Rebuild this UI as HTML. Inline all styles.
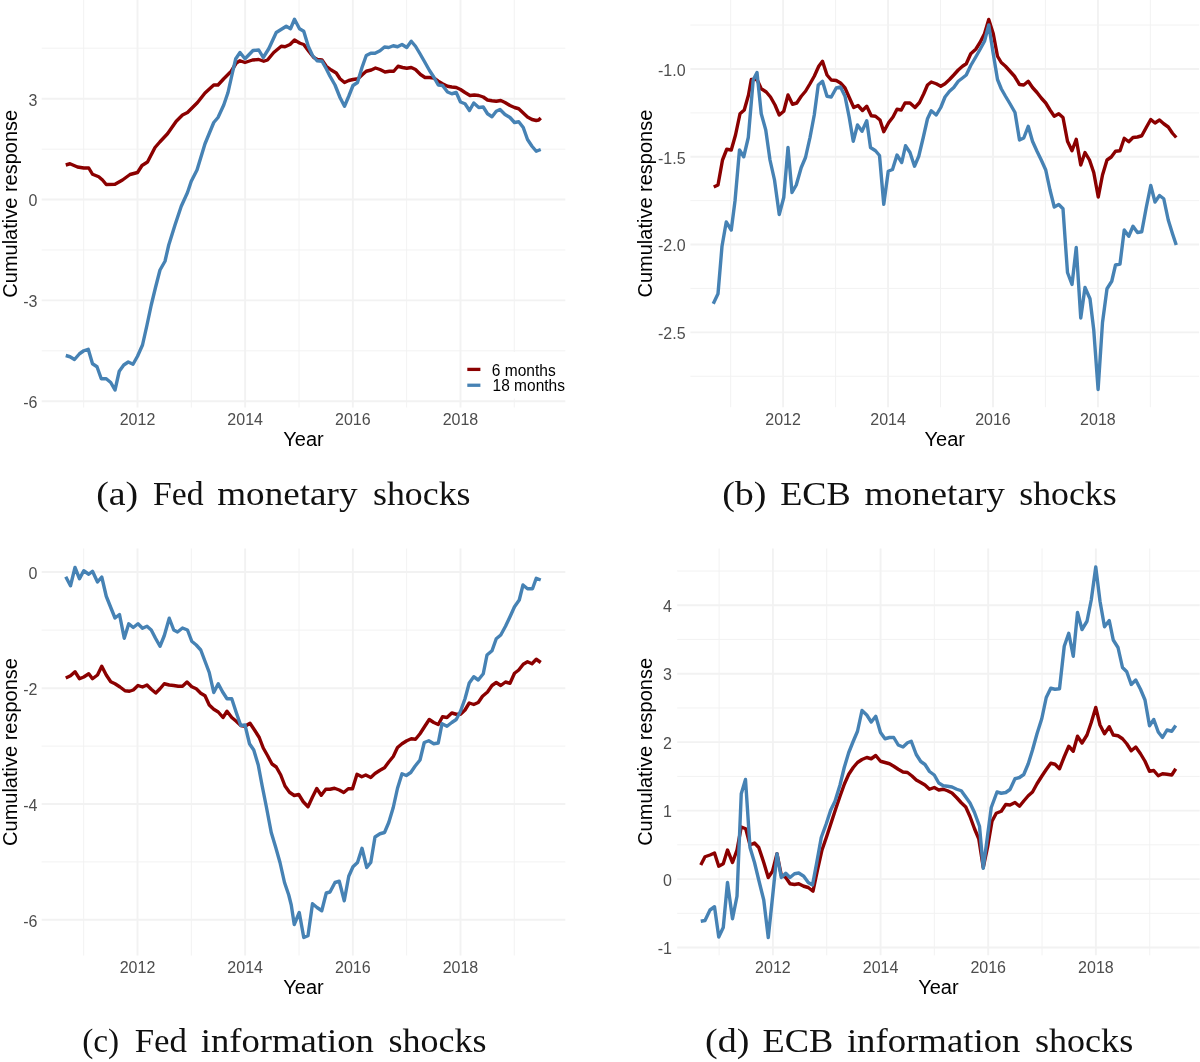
<!DOCTYPE html>
<html><head><meta charset="utf-8"><title>Cumulative responses</title>
<style>html,body{margin:0;padding:0;background:#fff}svg{display:block}text{font-family:"Liberation Sans",sans-serif}text.cap{font-family:"Liberation Serif",serif}</style>
</head><body>
<svg width="1200" height="1062" viewBox="0 0 1200 1062">
<rect width="1200" height="1062" fill="#fff"/>
<line x1="83.67" y1="0" x2="83.67" y2="407.5" stroke="#F1F1F1" stroke-width="0.95"/>
<line x1="191.32999999999998" y1="0" x2="191.32999999999998" y2="407.5" stroke="#F1F1F1" stroke-width="0.95"/>
<line x1="298.99" y1="0" x2="298.99" y2="407.5" stroke="#F1F1F1" stroke-width="0.95"/>
<line x1="406.65" y1="0" x2="406.65" y2="407.5" stroke="#F1F1F1" stroke-width="0.95"/>
<line x1="514.31" y1="0" x2="514.31" y2="407.5" stroke="#F1F1F1" stroke-width="0.95"/>
<line x1="41.7" y1="48.2" x2="565.3" y2="48.2" stroke="#F1F1F1" stroke-width="0.95"/>
<line x1="41.7" y1="149.2" x2="565.3" y2="149.2" stroke="#F1F1F1" stroke-width="0.95"/>
<line x1="41.7" y1="250.0" x2="565.3" y2="250.0" stroke="#F1F1F1" stroke-width="0.95"/>
<line x1="41.7" y1="350.8" x2="565.3" y2="350.8" stroke="#F1F1F1" stroke-width="0.95"/>
<line x1="137.5" y1="0" x2="137.5" y2="407.5" stroke="#F2F2F2" stroke-width="1.9"/>
<line x1="245.16" y1="0" x2="245.16" y2="407.5" stroke="#F2F2F2" stroke-width="1.9"/>
<line x1="352.82" y1="0" x2="352.82" y2="407.5" stroke="#F2F2F2" stroke-width="1.9"/>
<line x1="460.48" y1="0" x2="460.48" y2="407.5" stroke="#F2F2F2" stroke-width="1.9"/>
<line x1="41.7" y1="98.75" x2="565.3" y2="98.75" stroke="#F2F2F2" stroke-width="1.9"/>
<line x1="41.7" y1="199.5" x2="565.3" y2="199.5" stroke="#F2F2F2" stroke-width="1.9"/>
<line x1="41.7" y1="300.4" x2="565.3" y2="300.4" stroke="#F2F2F2" stroke-width="1.9"/>
<line x1="41.7" y1="401.2" x2="565.3" y2="401.2" stroke="#F2F2F2" stroke-width="1.9"/>
<path d="M65.75 165.00 L70.00 163.75 L77.50 167.00 L83.75 168.00 L88.75 168.00 L92.50 174.25 L98.75 176.75 L102.50 180.00 L106.25 184.50 L115.00 184.25 L122.50 180.00 L130.00 174.50 L137.50 172.50 L142.00 165.50 L147.50 162.00 L155.00 147.50 L160.00 141.75 L167.50 133.75 L176.25 121.25 L182.50 115.00 L187.50 112.50 L197.50 102.50 L205.00 93.00 L213.75 85.00 L218.00 85.00 L223.75 78.75 L231.25 71.25 L236.25 63.00 L240.00 60.75 L245.00 62.50 L252.50 60.00 L258.75 59.50 L263.75 61.25 L267.50 60.00 L273.75 52.50 L281.25 46.25 L285.00 46.75 L290.00 44.50 L294.50 40.00 L300.00 43.25 L303.75 44.50 L308.75 51.25 L313.75 57.50 L317.50 59.50 L322.00 60.00 L326.25 66.25 L331.25 70.00 L336.25 73.00 L340.00 78.75 L344.50 82.50 L348.75 80.50 L353.00 79.50 L358.00 78.75 L362.50 74.50 L366.25 71.25 L371.25 70.00 L375.50 68.00 L380.00 69.50 L385.00 72.00 L389.50 71.25 L393.75 71.25 L398.00 66.25 L402.50 67.50 L406.75 68.25 L411.25 67.50 L415.50 69.50 L420.50 74.50 L425.00 77.50 L429.50 77.50 L433.75 78.00 L438.25 81.25 L442.50 83.75 L447.50 86.25 L451.75 87.00 L456.25 87.50 L460.50 89.50 L465.00 92.50 L470.00 95.50 L474.25 95.00 L478.75 95.50 L483.25 97.00 L487.50 100.00 L492.00 100.75 L496.25 101.25 L500.75 100.50 L505.00 102.50 L510.00 105.50 L514.50 107.50 L518.75 108.75 L523.25 113.00 L527.50 117.00 L532.00 119.50 L536.25 120.50 L538.75 120.00 L540.75 118.00" fill="none" stroke="#8B0000" stroke-width="3.4" stroke-linejoin="round" stroke-linecap="butt"/>
<path d="M65.75 355.50 L70.00 356.75 L74.50 359.50 L79.50 353.75 L83.75 350.75 L88.25 349.25 L92.50 363.75 L97.00 366.75 L101.25 378.75 L106.25 378.75 L110.75 382.50 L115.00 390.00 L119.25 371.25 L123.75 365.00 L128.25 362.00 L133.00 364.25 L137.50 356.25 L142.50 345.00 L147.00 325.00 L151.25 305.00 L155.50 287.50 L160.00 270.00 L165.00 261.25 L168.75 245.00 L175.00 225.00 L181.25 206.25 L187.50 192.50 L191.25 181.25 L197.00 170.00 L205.00 143.75 L213.75 122.50 L218.00 117.50 L223.75 105.00 L228.00 92.50 L232.50 72.50 L235.75 58.75 L240.00 52.50 L245.00 58.75 L253.00 50.50 L258.75 50.00 L263.25 57.50 L268.75 48.75 L276.25 32.50 L286.25 26.25 L290.50 28.75 L294.50 19.25 L299.50 28.75 L303.75 31.25 L308.25 46.25 L312.50 55.50 L317.00 60.75 L322.00 61.25 L326.25 68.75 L330.00 76.25 L335.00 85.00 L340.00 97.50 L344.50 106.25 L348.75 96.25 L353.00 85.50 L357.50 82.50 L362.00 67.50 L366.25 55.50 L370.75 53.25 L375.00 53.25 L380.00 50.75 L384.50 47.00 L388.75 47.50 L393.25 45.75 L397.50 46.75 L402.00 44.50 L406.75 47.50 L411.25 41.25 L415.50 46.25 L420.00 53.75 L425.00 62.50 L429.50 70.50 L433.75 77.00 L438.25 85.00 L442.50 85.50 L447.50 92.00 L451.75 93.75 L456.25 92.50 L460.50 102.00 L465.00 103.75 L469.50 110.50 L473.75 103.00 L478.75 107.50 L483.25 107.00 L487.50 113.75 L492.00 116.75 L496.25 111.25 L500.00 109.50 L505.00 114.50 L510.00 117.50 L514.50 122.50 L518.75 121.75 L523.25 127.50 L527.50 139.50 L532.00 146.25 L536.25 151.25 L540.75 149.50" fill="none" stroke="#4682B4" stroke-width="3.4" stroke-linejoin="round" stroke-linecap="butt"/>
<text x="37.5" y="105.55" text-anchor="end" font-size="16" fill="#4D4D4D">3</text>
<text x="37.5" y="206.3" text-anchor="end" font-size="16" fill="#4D4D4D">0</text>
<text x="37.5" y="307.2" text-anchor="end" font-size="16" fill="#4D4D4D">-3</text>
<text x="37.5" y="408.0" text-anchor="end" font-size="16" fill="#4D4D4D">-6</text>
<text x="137.5" y="425.0" text-anchor="middle" font-size="16" fill="#4D4D4D">2012</text>
<text x="245.16" y="425.0" text-anchor="middle" font-size="16" fill="#4D4D4D">2014</text>
<text x="352.82" y="425.0" text-anchor="middle" font-size="16" fill="#4D4D4D">2016</text>
<text x="460.48" y="425.0" text-anchor="middle" font-size="16" fill="#4D4D4D">2018</text>
<text x="303.5" y="446.1" text-anchor="middle" font-size="20" fill="#000">Year</text>
<text transform="translate(17.1 203.75) rotate(-90)" text-anchor="middle" font-size="20" fill="#000">Cumulative response</text>
<rect x="462.5" y="352" width="104" height="46.5" fill="#fff"/>
<line x1="467.3" y1="369.4" x2="480.4" y2="369.4" stroke="#8B0000" stroke-width="3.3"/>
<line x1="467.3" y1="385.25" x2="480.4" y2="385.25" stroke="#4682B4" stroke-width="3.3"/>
<text x="491.8" y="375.7" font-size="16.5" fill="#000" textLength="63.9" lengthAdjust="spacingAndGlyphs">6 months</text>
<text x="492.6" y="391.3" font-size="16.5" fill="#000" textLength="72.3" lengthAdjust="spacingAndGlyphs">18 months</text>
<line x1="730.63" y1="0" x2="730.63" y2="407.2" stroke="#F1F1F1" stroke-width="0.95"/>
<line x1="835.57" y1="0" x2="835.57" y2="407.2" stroke="#F1F1F1" stroke-width="0.95"/>
<line x1="940.51" y1="0" x2="940.51" y2="407.2" stroke="#F1F1F1" stroke-width="0.95"/>
<line x1="1045.45" y1="0" x2="1045.45" y2="407.2" stroke="#F1F1F1" stroke-width="0.95"/>
<line x1="1150.3899999999999" y1="0" x2="1150.3899999999999" y2="407.2" stroke="#F1F1F1" stroke-width="0.95"/>
<line x1="690.4" y1="25.050000000000004" x2="1199.1" y2="25.050000000000004" stroke="#F1F1F1" stroke-width="0.95"/>
<line x1="690.4" y1="112.85" x2="1199.1" y2="112.85" stroke="#F1F1F1" stroke-width="0.95"/>
<line x1="690.4" y1="200.64999999999998" x2="1199.1" y2="200.64999999999998" stroke="#F1F1F1" stroke-width="0.95"/>
<line x1="690.4" y1="288.45" x2="1199.1" y2="288.45" stroke="#F1F1F1" stroke-width="0.95"/>
<line x1="690.4" y1="376.25" x2="1199.1" y2="376.25" stroke="#F1F1F1" stroke-width="0.95"/>
<line x1="783.1" y1="0" x2="783.1" y2="407.2" stroke="#F2F2F2" stroke-width="1.9"/>
<line x1="888.04" y1="0" x2="888.04" y2="407.2" stroke="#F2F2F2" stroke-width="1.9"/>
<line x1="992.98" y1="0" x2="992.98" y2="407.2" stroke="#F2F2F2" stroke-width="1.9"/>
<line x1="1097.92" y1="0" x2="1097.92" y2="407.2" stroke="#F2F2F2" stroke-width="1.9"/>
<line x1="690.4" y1="68.95" x2="1199.1" y2="68.95" stroke="#F2F2F2" stroke-width="1.9"/>
<line x1="690.4" y1="156.75" x2="1199.1" y2="156.75" stroke="#F2F2F2" stroke-width="1.9"/>
<line x1="690.4" y1="244.55" x2="1199.1" y2="244.55" stroke="#F2F2F2" stroke-width="1.9"/>
<line x1="690.4" y1="332.34999999999997" x2="1199.1" y2="332.34999999999997" stroke="#F2F2F2" stroke-width="1.9"/>
<path d="M713.75 187.00 L718.00 185.00 L722.50 160.00 L726.75 149.25 L731.25 150.00 L735.50 135.00 L740.00 113.75 L744.25 110.00 L748.50 95.00 L751.30 79.50 L757.00 79.50 L761.25 88.75 L766.25 92.00 L770.50 97.00 L775.00 105.00 L779.25 115.00 L783.75 111.25 L788.00 95.00 L792.50 104.25 L796.75 103.00 L801.25 96.25 L805.50 91.25 L810.00 83.75 L814.25 76.25 L818.75 66.25 L822.50 61.25 L827.00 75.00 L831.25 80.00 L836.25 80.50 L840.50 83.00 L845.00 88.00 L849.25 97.50 L853.75 107.50 L858.00 105.50 L862.50 110.50 L866.75 106.25 L871.25 115.75 L875.50 116.25 L880.00 120.00 L883.75 131.75 L888.75 122.50 L893.00 117.00 L897.00 109.25 L901.25 110.00 L905.00 103.00 L910.00 103.00 L915.00 107.50 L919.50 102.50 L923.75 93.75 L927.50 85.00 L931.25 82.00 L936.25 83.75 L940.75 86.25 L945.00 83.75 L949.50 79.50 L953.75 75.00 L958.25 70.00 L962.50 66.25 L966.25 63.75 L970.75 53.75 L975.75 49.25 L980.00 42.50 L984.50 33.75 L988.75 19.50 L993.25 33.75 L997.50 56.25 L1001.25 62.50 L1005.50 66.25 L1010.00 71.25 L1014.50 76.25 L1019.50 84.50 L1023.75 85.00 L1028.25 81.25 L1032.50 87.50 L1037.00 92.50 L1041.25 98.00 L1045.75 103.00 L1050.00 110.00 L1054.25 116.25 L1058.75 113.75 L1063.00 117.50 L1067.50 141.25 L1072.00 150.75 L1076.25 139.25 L1080.75 165.00 L1085.00 152.50 L1089.50 160.00 L1093.75 172.50 L1098.25 197.00 L1102.50 175.00 L1107.00 160.00 L1111.25 157.00 L1115.50 151.25 L1120.00 150.75 L1124.25 138.25 L1128.75 141.75 L1133.00 137.50 L1137.50 137.00 L1141.75 135.75 L1146.25 127.50 L1150.75 119.50 L1155.00 123.00 L1159.50 120.00 L1163.75 123.75 L1168.25 127.00 L1172.50 133.25 L1176.25 137.50" fill="none" stroke="#8B0000" stroke-width="3.4" stroke-linejoin="round" stroke-linecap="butt"/>
<path d="M713.25 303.75 L718.00 293.75 L722.00 246.25 L726.25 222.00 L731.25 230.00 L735.00 201.00 L739.50 150.00 L743.75 156.75 L748.30 137.50 L753.20 80.00 L757.00 72.50 L761.25 113.75 L765.75 130.00 L770.00 160.00 L774.50 180.00 L779.25 214.50 L783.75 197.50 L788.00 147.50 L792.00 192.50 L796.25 185.00 L801.25 167.50 L805.50 157.50 L810.00 137.50 L814.25 115.00 L818.25 85.00 L822.50 81.25 L827.00 96.25 L831.25 97.00 L836.25 88.00 L840.50 87.00 L845.00 96.25 L849.25 117.50 L853.25 141.25 L857.50 125.00 L862.00 131.25 L866.75 120.75 L870.50 147.50 L875.50 150.75 L879.50 155.50 L883.75 204.25 L888.25 171.25 L892.50 169.50 L897.00 155.00 L901.75 162.50 L905.50 145.75 L910.00 152.50 L914.50 166.25 L918.75 156.25 L923.25 137.50 L927.50 118.75 L931.25 110.75 L936.25 115.00 L940.75 107.50 L945.00 97.00 L949.50 91.25 L953.75 87.50 L958.25 81.25 L962.50 78.00 L966.25 75.00 L970.75 65.50 L975.75 57.00 L980.00 49.50 L984.50 41.25 L988.75 25.00 L993.25 53.75 L997.50 79.50 L1001.25 88.75 L1005.50 96.25 L1010.00 103.75 L1015.00 112.50 L1019.50 140.00 L1023.75 138.00 L1028.25 126.25 L1032.50 141.25 L1037.00 151.25 L1041.25 160.00 L1045.75 170.00 L1050.00 190.00 L1054.25 207.00 L1058.75 204.50 L1063.00 208.75 L1065.00 237.50 L1067.50 272.50 L1072.00 284.50 L1076.25 247.50 L1080.75 318.00 L1085.00 287.50 L1090.00 298.75 L1093.75 330.00 L1098.10 389.50 L1102.50 322.50 L1107.00 288.75 L1111.75 281.25 L1115.50 265.00 L1120.00 264.00 L1124.25 230.00 L1128.75 236.25 L1133.00 226.25 L1137.50 232.50 L1141.75 231.75 L1146.25 207.50 L1150.75 185.50 L1155.00 202.00 L1159.50 195.50 L1163.75 198.75 L1168.25 220.00 L1172.50 233.75 L1176.25 245.00" fill="none" stroke="#4682B4" stroke-width="3.4" stroke-linejoin="round" stroke-linecap="butt"/>
<text x="685.5999999999999" y="75.75" text-anchor="end" font-size="16" fill="#4D4D4D">-1.0</text>
<text x="685.5999999999999" y="163.55" text-anchor="end" font-size="16" fill="#4D4D4D">-1.5</text>
<text x="685.5999999999999" y="251.35000000000002" text-anchor="end" font-size="16" fill="#4D4D4D">-2.0</text>
<text x="685.5999999999999" y="339.15" text-anchor="end" font-size="16" fill="#4D4D4D">-2.5</text>
<text x="783.1" y="424.7" text-anchor="middle" font-size="16" fill="#4D4D4D">2012</text>
<text x="888.04" y="424.7" text-anchor="middle" font-size="16" fill="#4D4D4D">2014</text>
<text x="992.98" y="424.7" text-anchor="middle" font-size="16" fill="#4D4D4D">2016</text>
<text x="1097.92" y="424.7" text-anchor="middle" font-size="16" fill="#4D4D4D">2018</text>
<text x="944.75" y="445.8" text-anchor="middle" font-size="20" fill="#000">Year</text>
<text transform="translate(652 203.6) rotate(-90)" text-anchor="middle" font-size="20" fill="#000">Cumulative response</text>
<line x1="83.67" y1="548.5" x2="83.67" y2="955.5" stroke="#F1F1F1" stroke-width="0.95"/>
<line x1="191.32999999999998" y1="548.5" x2="191.32999999999998" y2="955.5" stroke="#F1F1F1" stroke-width="0.95"/>
<line x1="298.99" y1="548.5" x2="298.99" y2="955.5" stroke="#F1F1F1" stroke-width="0.95"/>
<line x1="406.65" y1="548.5" x2="406.65" y2="955.5" stroke="#F1F1F1" stroke-width="0.95"/>
<line x1="514.31" y1="548.5" x2="514.31" y2="955.5" stroke="#F1F1F1" stroke-width="0.95"/>
<line x1="41.7" y1="630.1" x2="565.3" y2="630.1" stroke="#F1F1F1" stroke-width="0.95"/>
<line x1="41.7" y1="746.1" x2="565.3" y2="746.1" stroke="#F1F1F1" stroke-width="0.95"/>
<line x1="41.7" y1="861.9" x2="565.3" y2="861.9" stroke="#F1F1F1" stroke-width="0.95"/>
<line x1="137.5" y1="548.5" x2="137.5" y2="955.5" stroke="#F2F2F2" stroke-width="1.9"/>
<line x1="245.16" y1="548.5" x2="245.16" y2="955.5" stroke="#F2F2F2" stroke-width="1.9"/>
<line x1="352.82" y1="548.5" x2="352.82" y2="955.5" stroke="#F2F2F2" stroke-width="1.9"/>
<line x1="460.48" y1="548.5" x2="460.48" y2="955.5" stroke="#F2F2F2" stroke-width="1.9"/>
<line x1="41.7" y1="572.05" x2="565.3" y2="572.05" stroke="#F2F2F2" stroke-width="1.9"/>
<line x1="41.7" y1="688.3" x2="565.3" y2="688.3" stroke="#F2F2F2" stroke-width="1.9"/>
<line x1="41.7" y1="804.0" x2="565.3" y2="804.0" stroke="#F2F2F2" stroke-width="1.9"/>
<line x1="41.7" y1="919.8" x2="565.3" y2="919.8" stroke="#F2F2F2" stroke-width="1.9"/>
<path d="M65.75 678.00 L70.50 675.75 L75.00 671.75 L79.50 678.75 L83.75 677.00 L88.75 673.75 L92.50 678.75 L97.50 675.00 L101.75 666.25 L106.25 675.00 L110.75 681.75 L115.00 683.75 L120.00 687.00 L125.00 690.75 L129.50 691.25 L133.25 690.00 L138.00 685.50 L142.50 687.00 L147.00 685.00 L151.25 689.25 L155.75 693.00 L160.00 688.75 L164.25 683.75 L169.25 685.00 L173.75 685.50 L178.25 686.25 L182.50 686.25 L187.00 682.00 L191.75 686.75 L196.25 688.75 L200.75 693.25 L205.00 695.75 L209.25 705.00 L213.75 709.25 L218.25 712.00 L223.00 717.50 L227.00 711.25 L231.75 717.50 L236.25 721.25 L240.75 725.50 L245.00 726.25 L250.00 723.25 L254.50 730.00 L259.25 737.50 L263.25 748.00 L267.50 755.50 L272.00 764.00 L276.25 767.00 L280.75 775.00 L285.00 786.00 L289.50 792.25 L294.25 795.50 L298.75 794.50 L303.25 801.75 L308.00 806.75 L312.50 797.00 L316.75 788.50 L321.25 795.25 L325.75 789.25 L330.00 789.25 L334.50 788.25 L339.25 790.00 L343.75 792.50 L348.25 788.75 L352.50 788.75 L357.00 774.25 L361.75 776.75 L365.75 775.00 L370.75 777.50 L375.00 773.50 L380.00 770.25 L384.50 767.75 L388.75 762.00 L393.25 756.50 L397.50 747.50 L402.00 743.75 L406.75 740.75 L411.25 738.75 L415.50 739.25 L420.00 733.75 L424.50 726.75 L429.25 719.50 L433.75 722.50 L438.25 724.50 L442.50 716.75 L447.00 717.50 L451.75 713.00 L456.25 714.25 L460.50 714.25 L465.00 710.00 L469.25 703.00 L473.75 704.50 L478.25 702.50 L482.50 696.25 L487.50 692.00 L492.00 685.50 L496.25 682.50 L500.75 685.50 L505.50 682.00 L510.00 683.25 L514.50 673.25 L518.75 670.00 L523.25 664.25 L527.50 661.75 L532.00 663.75 L536.25 659.25 L540.75 662.50" fill="none" stroke="#8B0000" stroke-width="3.4" stroke-linejoin="round" stroke-linecap="butt"/>
<path d="M65.75 576.75 L70.50 585.75 L75.00 567.50 L79.50 578.75 L83.75 570.75 L88.75 574.25 L92.50 571.25 L97.50 582.00 L101.75 577.00 L106.25 596.25 L110.75 607.50 L115.00 618.00 L119.50 614.50 L124.25 638.25 L128.75 623.75 L133.25 627.50 L138.00 623.75 L142.50 628.25 L147.00 626.25 L151.25 630.00 L155.50 638.25 L160.00 646.25 L164.25 635.75 L169.25 618.25 L173.75 630.00 L177.50 632.00 L182.50 628.00 L187.50 630.00 L191.75 641.25 L196.25 645.00 L200.75 650.00 L205.00 661.25 L209.25 672.50 L213.75 692.50 L218.25 683.75 L222.50 691.75 L227.00 698.75 L231.75 698.75 L236.25 712.50 L240.75 725.50 L245.00 725.00 L249.50 743.75 L253.75 750.00 L258.25 765.00 L262.00 785.00 L266.25 806.25 L271.25 832.50 L275.75 847.50 L280.00 862.50 L284.50 882.50 L288.75 895.00 L291.25 905.00 L294.25 924.50 L299.25 912.50 L303.75 937.50 L308.00 935.75 L312.50 903.75 L317.00 907.50 L321.75 910.75 L326.25 893.00 L330.00 892.00 L335.00 882.50 L339.25 881.25 L344.25 900.75 L348.75 876.25 L353.00 866.75 L357.50 862.50 L362.00 848.25 L366.75 867.50 L370.75 862.50 L375.00 837.00 L380.00 833.75 L384.50 832.50 L388.75 822.50 L393.25 807.50 L397.50 788.25 L402.00 773.75 L406.25 775.50 L410.75 772.50 L415.00 766.25 L420.00 760.00 L424.25 742.50 L428.75 740.75 L433.75 743.75 L438.25 743.00 L442.00 723.75 L447.00 726.25 L451.75 722.50 L456.25 719.50 L460.50 711.25 L465.00 698.75 L469.25 683.00 L473.75 676.75 L478.25 680.00 L483.25 673.75 L487.00 655.00 L492.00 650.75 L496.25 638.75 L500.75 635.00 L505.50 626.25 L510.00 616.75 L514.50 606.75 L519.25 600.00 L523.00 585.00 L527.50 588.75 L532.50 588.75 L536.25 578.25 L540.75 580.00" fill="none" stroke="#4682B4" stroke-width="3.4" stroke-linejoin="round" stroke-linecap="butt"/>
<text x="37.5" y="578.8499999999999" text-anchor="end" font-size="16" fill="#4D4D4D">0</text>
<text x="37.5" y="695.0999999999999" text-anchor="end" font-size="16" fill="#4D4D4D">-2</text>
<text x="37.5" y="810.8" text-anchor="end" font-size="16" fill="#4D4D4D">-4</text>
<text x="37.5" y="926.5999999999999" text-anchor="end" font-size="16" fill="#4D4D4D">-6</text>
<text x="137.5" y="973.0" text-anchor="middle" font-size="16" fill="#4D4D4D">2012</text>
<text x="245.16" y="973.0" text-anchor="middle" font-size="16" fill="#4D4D4D">2014</text>
<text x="352.82" y="973.0" text-anchor="middle" font-size="16" fill="#4D4D4D">2016</text>
<text x="460.48" y="973.0" text-anchor="middle" font-size="16" fill="#4D4D4D">2018</text>
<text x="303.5" y="994.1" text-anchor="middle" font-size="20" fill="#000">Year</text>
<text transform="translate(17.1 752.0) rotate(-90)" text-anchor="middle" font-size="20" fill="#000">Cumulative response</text>
<line x1="719.0699999999999" y1="548.5" x2="719.0699999999999" y2="955.3" stroke="#F1F1F1" stroke-width="0.95"/>
<line x1="826.73" y1="548.5" x2="826.73" y2="955.3" stroke="#F1F1F1" stroke-width="0.95"/>
<line x1="934.39" y1="548.5" x2="934.39" y2="955.3" stroke="#F1F1F1" stroke-width="0.95"/>
<line x1="1042.05" y1="548.5" x2="1042.05" y2="955.3" stroke="#F1F1F1" stroke-width="0.95"/>
<line x1="1149.71" y1="548.5" x2="1149.71" y2="955.3" stroke="#F1F1F1" stroke-width="0.95"/>
<line x1="677.2" y1="570.985" x2="1199.7" y2="570.985" stroke="#F1F1F1" stroke-width="0.95"/>
<line x1="677.2" y1="639.455" x2="1199.7" y2="639.455" stroke="#F1F1F1" stroke-width="0.95"/>
<line x1="677.2" y1="707.925" x2="1199.7" y2="707.925" stroke="#F1F1F1" stroke-width="0.95"/>
<line x1="677.2" y1="776.395" x2="1199.7" y2="776.395" stroke="#F1F1F1" stroke-width="0.95"/>
<line x1="677.2" y1="844.865" x2="1199.7" y2="844.865" stroke="#F1F1F1" stroke-width="0.95"/>
<line x1="677.2" y1="913.335" x2="1199.7" y2="913.335" stroke="#F1F1F1" stroke-width="0.95"/>
<line x1="772.9" y1="548.5" x2="772.9" y2="955.3" stroke="#F2F2F2" stroke-width="1.9"/>
<line x1="880.56" y1="548.5" x2="880.56" y2="955.3" stroke="#F2F2F2" stroke-width="1.9"/>
<line x1="988.22" y1="548.5" x2="988.22" y2="955.3" stroke="#F2F2F2" stroke-width="1.9"/>
<line x1="1095.88" y1="548.5" x2="1095.88" y2="955.3" stroke="#F2F2F2" stroke-width="1.9"/>
<line x1="677.2" y1="605.22" x2="1199.7" y2="605.22" stroke="#F2F2F2" stroke-width="1.9"/>
<line x1="677.2" y1="673.69" x2="1199.7" y2="673.69" stroke="#F2F2F2" stroke-width="1.9"/>
<line x1="677.2" y1="742.1600000000001" x2="1199.7" y2="742.1600000000001" stroke="#F2F2F2" stroke-width="1.9"/>
<line x1="677.2" y1="810.63" x2="1199.7" y2="810.63" stroke="#F2F2F2" stroke-width="1.9"/>
<line x1="677.2" y1="879.1" x2="1199.7" y2="879.1" stroke="#F2F2F2" stroke-width="1.9"/>
<line x1="677.2" y1="947.57" x2="1199.7" y2="947.57" stroke="#F2F2F2" stroke-width="1.9"/>
<path d="M700.75 865.00 L705.00 856.75 L710.00 855.00 L714.50 853.00 L718.75 866.25 L723.25 863.75 L727.50 850.00 L732.50 862.50 L737.00 850.00 L741.25 827.00 L745.75 828.75 L750.00 845.00 L754.50 843.00 L758.75 847.50 L763.75 862.50 L768.25 877.50 L772.50 871.25 L777.00 853.75 L781.25 875.00 L785.75 877.50 L790.00 883.75 L794.50 884.50 L798.75 883.75 L803.75 886.25 L808.25 887.50 L813.00 891.25 L817.50 870.00 L822.00 850.00 L826.75 836.25 L831.25 822.50 L835.75 808.75 L840.00 796.25 L844.50 783.75 L848.75 774.25 L853.25 767.50 L857.50 762.50 L862.00 759.50 L866.75 757.50 L871.25 758.75 L875.75 755.50 L880.50 761.25 L885.00 762.50 L889.50 763.75 L893.75 766.25 L898.25 769.25 L903.00 772.00 L907.50 772.50 L912.00 776.00 L916.25 780.00 L920.75 782.50 L925.00 785.00 L929.50 789.25 L934.25 787.50 L938.75 790.00 L943.25 789.25 L947.50 790.75 L952.00 793.00 L956.75 797.75 L961.25 802.75 L965.75 807.00 L970.00 816.50 L974.50 828.75 L978.75 838.75 L983.25 867.50 L987.50 847.50 L992.00 821.25 L996.25 813.25 L1001.25 811.25 L1005.75 804.50 L1010.00 805.00 L1015.00 802.50 L1019.50 806.25 L1023.75 801.00 L1028.25 795.75 L1032.50 792.00 L1037.00 783.75 L1041.75 776.25 L1046.25 769.50 L1050.75 763.25 L1055.00 764.25 L1059.50 768.75 L1064.25 756.75 L1068.75 746.25 L1073.25 751.25 L1077.50 736.25 L1082.00 743.00 L1087.00 735.00 L1091.25 722.50 L1095.75 707.50 L1100.00 725.00 L1104.50 733.75 L1109.25 726.75 L1113.25 735.00 L1118.00 735.75 L1122.50 738.75 L1126.75 743.75 L1131.25 750.75 L1135.75 747.00 L1140.50 753.75 L1145.00 761.25 L1149.50 771.25 L1153.75 770.50 L1158.25 775.75 L1162.50 773.75 L1167.00 774.25 L1171.75 775.00 L1175.75 768.75" fill="none" stroke="#8B0000" stroke-width="3.4" stroke-linejoin="round" stroke-linecap="butt"/>
<path d="M700.75 921.25 L705.00 920.50 L710.00 910.00 L714.50 906.75 L718.75 937.00 L723.25 927.50 L727.50 882.50 L732.50 918.75 L737.00 896.25 L741.25 793.75 L745.50 779.50 L750.00 847.50 L754.50 862.50 L758.75 880.00 L763.75 900.00 L768.25 937.50 L772.50 897.50 L777.00 853.75 L781.25 877.50 L785.75 873.25 L790.00 877.50 L794.50 873.75 L798.75 873.00 L803.75 876.25 L808.25 882.50 L812.50 885.00 L816.75 862.50 L821.25 837.50 L826.25 823.75 L830.75 810.00 L835.00 801.25 L840.00 785.00 L844.25 767.50 L848.75 752.50 L853.25 741.25 L857.50 731.25 L862.00 710.50 L866.75 715.00 L871.25 722.00 L875.75 716.25 L880.50 732.50 L885.00 738.75 L889.50 737.50 L893.75 737.50 L898.25 745.00 L903.00 747.00 L907.50 742.75 L911.25 741.25 L916.25 754.50 L920.75 761.50 L925.00 764.50 L929.50 771.50 L934.25 775.00 L938.75 783.00 L943.25 785.75 L947.50 786.25 L952.00 787.00 L956.75 789.25 L961.25 790.75 L965.75 797.00 L970.00 803.00 L974.50 812.50 L979.50 826.25 L983.25 868.25 L987.00 840.00 L991.25 807.50 L997.00 792.00 L1001.25 793.25 L1005.75 792.50 L1010.00 789.50 L1015.00 778.75 L1019.50 777.50 L1023.75 774.50 L1028.25 763.75 L1032.50 750.00 L1037.00 733.75 L1041.75 718.75 L1046.25 697.50 L1050.75 688.25 L1055.00 689.25 L1059.50 688.75 L1064.25 646.25 L1068.75 633.25 L1073.25 656.25 L1077.50 612.50 L1082.00 629.50 L1087.00 621.25 L1091.25 600.00 L1095.75 567.00 L1100.00 601.25 L1104.50 626.75 L1109.25 620.50 L1113.25 640.00 L1118.00 647.50 L1122.50 667.50 L1126.75 671.75 L1131.25 684.50 L1135.75 680.00 L1140.50 689.25 L1145.00 700.00 L1149.50 725.75 L1153.75 719.50 L1158.25 732.00 L1162.50 737.50 L1167.00 730.00 L1171.75 731.25 L1175.75 725.50" fill="none" stroke="#4682B4" stroke-width="3.4" stroke-linejoin="round" stroke-linecap="butt"/>
<text x="672.0" y="612.02" text-anchor="end" font-size="16" fill="#4D4D4D">4</text>
<text x="672.0" y="680.49" text-anchor="end" font-size="16" fill="#4D4D4D">3</text>
<text x="672.0" y="748.96" text-anchor="end" font-size="16" fill="#4D4D4D">2</text>
<text x="672.0" y="817.43" text-anchor="end" font-size="16" fill="#4D4D4D">1</text>
<text x="672.0" y="885.9" text-anchor="end" font-size="16" fill="#4D4D4D">0</text>
<text x="672.0" y="954.37" text-anchor="end" font-size="16" fill="#4D4D4D">-1</text>
<text x="772.9" y="972.8" text-anchor="middle" font-size="16" fill="#4D4D4D">2012</text>
<text x="880.56" y="972.8" text-anchor="middle" font-size="16" fill="#4D4D4D">2014</text>
<text x="988.22" y="972.8" text-anchor="middle" font-size="16" fill="#4D4D4D">2016</text>
<text x="1095.88" y="972.8" text-anchor="middle" font-size="16" fill="#4D4D4D">2018</text>
<text x="938.45" y="993.9" text-anchor="middle" font-size="20" fill="#000">Year</text>
<text transform="translate(652 751.9) rotate(-90)" text-anchor="middle" font-size="20" fill="#000">Cumulative response</text>
<text y="504.6" class="cap" font-size="33" fill="#111"><tspan x="96.2" textLength="42.0" lengthAdjust="spacingAndGlyphs">(a)</tspan> <tspan x="153.0" textLength="50.5" lengthAdjust="spacingAndGlyphs">Fed</tspan> <tspan x="217.2" textLength="140.3" lengthAdjust="spacingAndGlyphs">monetary</tspan> <tspan x="373.0" textLength="97.5" lengthAdjust="spacingAndGlyphs">shocks</tspan></text>
<text y="504.6" class="cap" font-size="33" fill="#111"><tspan x="722.2" textLength="44.3" lengthAdjust="spacingAndGlyphs">(b)</tspan> <tspan x="780.2" textLength="70.6" lengthAdjust="spacingAndGlyphs">ECB</tspan> <tspan x="864.5" textLength="140.4" lengthAdjust="spacingAndGlyphs">monetary</tspan> <tspan x="1019.3" textLength="97.4" lengthAdjust="spacingAndGlyphs">shocks</tspan></text>
<text y="1052.2" class="cap" font-size="33" fill="#111"><tspan x="82.2" textLength="37.0" lengthAdjust="spacingAndGlyphs">(c)</tspan> <tspan x="134.7" textLength="52.3" lengthAdjust="spacingAndGlyphs">Fed</tspan> <tspan x="200.7" textLength="173.3" lengthAdjust="spacingAndGlyphs">information</tspan> <tspan x="388.5" textLength="98.0" lengthAdjust="spacingAndGlyphs">shocks</tspan></text>
<text y="1052.2" class="cap" font-size="33" fill="#111"><tspan x="705.0" textLength="44.3" lengthAdjust="spacingAndGlyphs">(d)</tspan> <tspan x="762.5" textLength="70.7" lengthAdjust="spacingAndGlyphs">ECB</tspan> <tspan x="846.9" textLength="173.6" lengthAdjust="spacingAndGlyphs">information</tspan> <tspan x="1035.0" textLength="98.2" lengthAdjust="spacingAndGlyphs">shocks</tspan></text>
</svg>
</body></html>
